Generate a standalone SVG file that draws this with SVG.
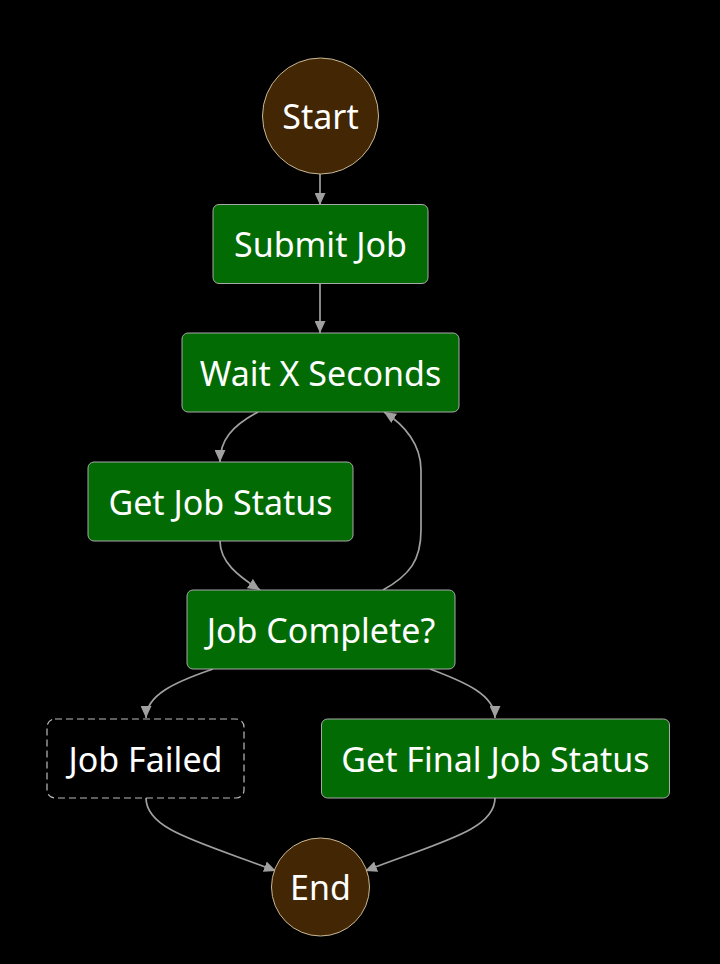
<svg xmlns="http://www.w3.org/2000/svg" width="720" height="964" viewBox="0 0 720 964">
<defs>
<style>
.task{fill:#036b03;stroke:#a9a9a9;stroke-width:1}
.term{fill:#432603;stroke:#c8b896;stroke-width:1}
.fail{fill:#000;stroke:#bbbbbb;stroke-width:1.2;stroke-dasharray:7 4}
.lbl{font-family:"Noto Sans","Open Sans",sans-serif;font-size:34px;fill:#ffffff;text-anchor:middle;dominant-baseline:central}
.edge{fill:none;stroke:#a0a0a0;stroke-width:1.7}
</style>
<marker id="arr" viewBox="0 0 12 11" refX="12" refY="5.5" markerWidth="12" markerHeight="11" markerUnits="userSpaceOnUse" orient="auto">
<path d="M0,0 L12,5.5 L0,11 z" fill="#a0a0a0"/>
</marker>
</defs>
<rect width="720" height="964" fill="#000"/>
<g id="connectors">
<path class="edge" d="M320,174 L320,205" marker-end="url(#arr)"/>
<path class="edge" d="M320,284 L320,333" marker-end="url(#arr)"/>
<path class="edge" d="M258,412 C232,426 220,440 220,462" marker-end="url(#arr)"/>
<path class="edge" d="M220,541 C220,562 238,576 260,590" marker-end="url(#arr)"/>
<path class="edge" d="M383,590 C410,575 421,560 421,530 L421,470 C421,445 405,425 384,412" marker-end="url(#arr)"/>
<path class="edge" d="M213,669 C175,682 146,695 146,718" marker-end="url(#arr)"/>
<path class="edge" d="M430,669 C465,682 495,695 495,718" marker-end="url(#arr)"/>
<path class="edge" d="M146,798 C146,830 200,842 276,871" marker-end="url(#arr)"/>
<path class="edge" d="M495,798 C495,830 440,842 365,871" marker-end="url(#arr)"/>
</g>
<g id="start"><circle class="term" cx="320.5" cy="116" r="58"/><text class="lbl" x="320.5" y="116">Start</text></g>
<g id="submit-job"><rect class="task" x="213" y="204.5" width="215" height="79" rx="6"/><text class="lbl" x="320.5" y="244">Submit Job</text></g>
<g id="wait-x-seconds"><rect class="task" x="182" y="333" width="277" height="79" rx="6"/><text class="lbl" x="320.5" y="373">Wait X Seconds</text></g>
<g id="get-job-status"><rect class="task" x="88" y="462" width="265" height="79" rx="6"/><text class="lbl" x="220.5" y="502">Get Job Status</text></g>
<g id="job-complete"><rect class="task" x="187" y="590" width="268" height="79" rx="6"/><text class="lbl" x="321" y="630">Job Complete?</text></g>
<g id="job-failed"><rect class="fail" x="47" y="719" width="197" height="79" rx="8"/><text class="lbl" x="145.5" y="759">Job Failed</text></g>
<g id="get-final-job-status"><rect class="task" x="321.5" y="719" width="348" height="79" rx="6"/><text class="lbl" x="495.5" y="759">Get Final Job Status</text></g>
<g id="end"><circle class="term" cx="320.5" cy="887" r="49"/><text class="lbl" x="320.5" y="887">End</text></g>
</svg>
